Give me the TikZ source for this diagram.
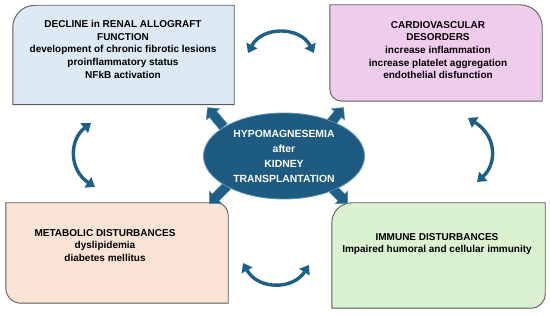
\documentclass[tikz,border=0pt]{standalone}
\usepackage{fontspec}
\setmainfont{Liberation Sans}
\usetikzlibrary{shapes.geometric,shapes.arrows,arrows.meta,calc}
\definecolor{arrowblue}{HTML}{1F5F85}
\definecolor{ellfill}{HTML}{1E5B80}
\definecolor{ellline}{HTML}{5A8DB0}
\definecolor{boxline}{HTML}{5A5A5A}
\definecolor{cblue}{HTML}{DDEAF6}
\definecolor{cpink}{HTML}{F0CCEC}
\definecolor{cpeach}{HTML}{FBE3D6}
\definecolor{cgreen}{HTML}{DBF2D1}
\tikzset{
  boxnode/.style={draw=none, inner sep=0pt},
  boxshape/.style={draw=boxline, line width=0.9pt},
  boxtext/.style={align=center, font=\fontsize{10}{12.7}\selectfont\bfseries, inner sep=0pt, anchor=north},
  blockarrow/.style={single arrow, fill=arrowblue, draw=ellline, line width=0.5pt,
    minimum height=25pt, inner sep=4.5pt, single arrow head extend=4pt, single arrow head indent=0pt},
  dblarrow/.style={draw=arrowblue, line width=3.4pt, {Triangle[length=8.5pt,width=12pt]}-{Triangle[length=8.5pt,width=12pt]}}
}
\begin{document}
\begin{tikzpicture}[x=1pt,y=1pt]
\useasboundingbox (0,0) rectangle (550,316);
% box anchors
\node[boxnode, minimum width=221pt, minimum height=99pt] (tl) at (123.5,261) {};
\node[boxnode, minimum width=212pt, minimum height=96pt] (tr) at (436,263) {};
\node[boxnode, minimum width=222pt, minimum height=100pt] (bl) at (117,63) {};
\node[boxnode, minimum width=213pt, minimum height=105pt] (br) at (438.5,60.5) {};
% box shapes
\fill[cblue] ($(tl.south west)$) -- ($(tl.north west)+(0,-22)$) arc[start angle=180,end angle=90,radius=22] -- (tl.north east) -- (tl.south east) -- cycle;
\draw[boxshape] ($(tl.south west)$) -- ($(tl.north west)+(0,-22)$) arc[start angle=180,end angle=90,radius=22] -- (tl.north east) -- (tl.south east) -- cycle;
\fill[cpink] ($(tr.south west)+(0,12)$) -- (tr.north west) -- ($(tr.north east)+(-22,0)$) arc[start angle=90,end angle=0,radius=22] -- (tr.south east) -- ($(tr.south west)+(12,0)$) arc[start angle=270,end angle=180,radius=12] -- cycle;
\draw[boxshape] ($(tr.south west)+(0,12)$) -- (tr.north west) -- ($(tr.north east)+(-22,0)$) arc[start angle=90,end angle=0,radius=22] -- (tr.south east) -- ($(tr.south west)+(12,0)$) arc[start angle=270,end angle=180,radius=12] -- cycle;
\fill[cpeach] (bl.north west) -- ($(bl.north east)+(-12,0)$) arc[start angle=90,end angle=0,radius=12] -- (bl.south east) -- ($(bl.south west)+(15,0)$) arc[start angle=270,end angle=180,radius=15] -- cycle;
\draw[boxshape] (bl.north west) -- ($(bl.north east)+(-12,0)$) arc[start angle=90,end angle=0,radius=12] -- (bl.south east) -- ($(bl.south west)+(15,0)$) arc[start angle=270,end angle=180,radius=15] -- cycle;
\fill[cgreen] ($(br.north west)+(20,0)$) -- (br.north east) -- ($(br.south east)+(0,14)$) arc[start angle=0,end angle=-90,radius=14] -- (br.south west) -- ($(br.north west)+(0,-20)$) arc[start angle=180,end angle=90,radius=20] -- cycle;
\draw[boxshape] ($(br.north west)+(20,0)$) -- (br.north east) -- ($(br.south east)+(0,14)$) arc[start angle=0,end angle=-90,radius=14] -- (br.south west) -- ($(br.north west)+(0,-20)$) arc[start angle=180,end angle=90,radius=20] -- cycle;
% texts
\node[boxtext] (tltext) at (123,296) {DECLINE in RENAL ALLOGRAFT\\FUNCTION\\development of chronic fibrotic lesions\\proinflammatory status\\NFkB activation};
\node[boxtext] (trtext) at (438,295) {CARDIOVASCULAR\\DESORDERS\\increase inflammation\\increase platelet aggregation\\endothelial disfunction};
\node[boxtext] (bltext) at (105,87) {METABOLIC DISTURBANCES\\dyslipidemia\\diabetes mellitus};
\node[boxtext] (brtext) at (437,83) {IMMUNE DISTURBANCES\\Impaired humoral and cellular immunity};
% block arrows
\node[blockarrow, rotate=130] (atl) at (217,197) {};
\node[blockarrow, rotate=50] (atr) at (334,197) {};
\node[blockarrow, rotate=225] (abl) at (220,123) {};
\node[blockarrow, rotate=-45] (abr) at (337,123) {};
% ellipse
\node[ellipse, fill=ellfill, draw=ellline, line width=0.8pt, minimum width=161pt, minimum height=86pt,
  text=white, align=center, font=\fontsize{10.4}{15}\selectfont\bfseries] (ell) at (284,160)
  {HYPOMAGNESEMIA\\after\\KIDNEY\\TRANSPLANTATION};
% curved double arrows
\coordinate (t1) at (248,263); \coordinate (t2) at (314,263);
\coordinate (l1) at (91,193); \coordinate (l2) at (95,129);
\coordinate (r1) at (468,198); \coordinate (r2) at (477,134);
\coordinate (b1) at (243,53); \coordinate (b2) at (309,51);
\draw[dblarrow] (t1) .. controls (262,290) and (300,290) .. (t2);
\draw[dblarrow] (l1) .. controls (69,176) and (69,146) .. (l2);
\draw[dblarrow] (r1) .. controls (497,180) and (497,152) .. (r2);
\draw[dblarrow] (b1) .. controls (258,26) and (293,26) .. (b2);
\end{tikzpicture}
\end{document}
